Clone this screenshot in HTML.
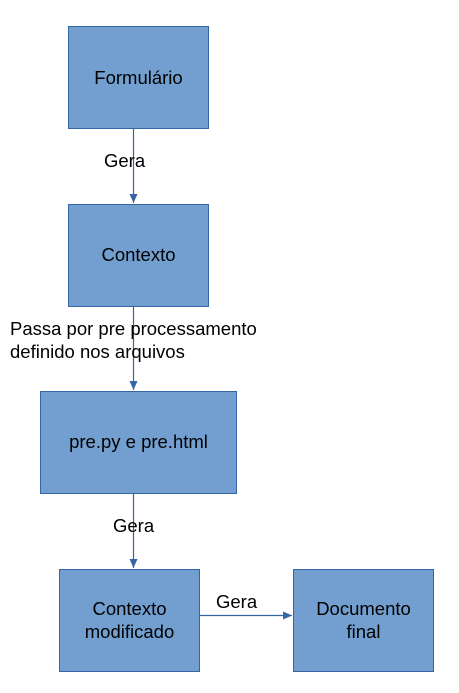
<!DOCTYPE html>
<html><head><meta charset="utf-8"><style>
html,body{margin:0;padding:0;background:#fff;width:459px;height:693px;overflow:hidden}
svg{display:block}
text{font-family:"Liberation Sans",sans-serif;font-size:18.5px;fill:#000}
</style></head><body>
<svg width="459" height="693" xmlns="http://www.w3.org/2000/svg">
<defs><marker id="a" markerWidth="10" markerHeight="10" refX="9" refY="5" orient="auto" markerUnits="userSpaceOnUse"><path d="M0,1 L9,5 L0,9 Z" fill="#3465a4"/></marker></defs>
<g fill="#729fcf" stroke="#3465a4" stroke-width="1">
<rect x="68.5" y="26.5" width="140" height="102"/>
<rect x="68.5" y="204.5" width="140" height="102"/>
<rect x="40.5" y="391.5" width="196" height="102"/>
<rect x="59.5" y="569.5" width="140" height="102"/>
<rect x="293.5" y="569.5" width="140" height="102"/>
</g>
<g stroke="#3465a4" stroke-width="1.2" fill="none">
<line x1="133.5" y1="129" x2="133.5" y2="203" marker-end="url(#a)"/>
<line x1="133.5" y1="307" x2="133.5" y2="390" marker-end="url(#a)"/>
<line x1="133.5" y1="494" x2="133.5" y2="568" marker-end="url(#a)"/>
<line x1="200" y1="615.5" x2="292" y2="615.5" marker-end="url(#a)"/>
</g>
<text x="138.5" y="84" text-anchor="middle">Formulário</text>
<text x="138.5" y="261" text-anchor="middle">Contexto</text>
<text x="138.5" y="448" text-anchor="middle">pre.py e pre.html</text>
<text x="129.5" y="615" text-anchor="middle">Contexto</text>
<text x="129.5" y="638" text-anchor="middle">modificado</text>
<text x="363.5" y="615" text-anchor="middle">Documento</text>
<text x="363.5" y="638" text-anchor="middle">final</text>
<text x="104" y="167">Gera</text>
<text x="10" y="335">Passa por pre processamento</text>
<text x="10" y="358">definido nos arquivos</text>
<text x="113" y="532">Gera</text>
<text x="216" y="608">Gera</text>
</svg>
</body></html>
